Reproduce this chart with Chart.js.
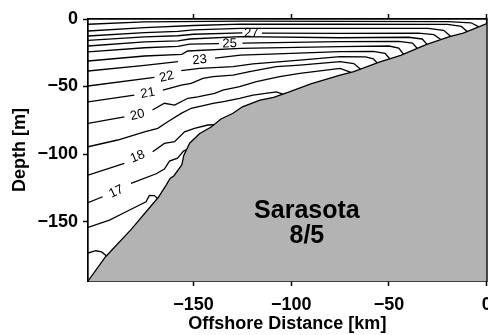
<!DOCTYPE html>
<html>
<head>
<meta charset="utf-8">
<script src="https://cdn.jsdelivr.net/npm/chart.js@4.4.1/dist/chart.umd.min.js"></script>
<style>
    html, body { margin: 0; padding: 0; background: #ffffff; }
</style>
</head>
<body>
<canvas id="section" width="488" height="335"></canvas>
<script>
// tick values
let distTicks = [-150, -100, -50, 0];
let depthTicks = [-150, -100, -50, 0];

// bottom profile [km, m]
let bathy = [[-204,-194],[-195,-176],[-182,-156],[-168,-132],[-164,-123],[-162,-118],[-160,-116],
    [-156,-108],[-155,-101],[-152,-92],[-147,-85],[-141,-80],[-136,-74],[-130,-70],[-125,-65],
    [-116,-60],[-109,-58],[-101,-54],[-90,-48],[-75,-41.5],[-68,-39],[-55,-32],[-44,-27],
    [-31,-19],[-19,-13],[-12,-10.5],[0,-3.5]];

// isotherms [km, m], a null depth leaves room for the label
let iso15 = [[-204,-173.3],[-200,-171.6],[-197,-172.5],[-194.5,-175.5]];
let iso16 = [[-204,-154.3],[-193,-148.9],[-184.5,-142.7],[-174.3,-135.3],[-172.6,-130.6],[-170,-130.8],[-168,-133.5]];
let iso17 = [[-204,-136],[-196.5,-131.6],[-189.6,null],[-182,-121.7],[-169.1,-114.6],[-164.9,-111.1],
    [-162.3,-105.2],[-158.2,-103],[-155.1,-97.8],[-153.5,-96.6]];
let iso18 = [[-204,-115.6],[-185.4,-106.9],[-178.6,null],[-170.9,-98.3],[-164.9,-92.1],[-159.7,-90.9],
    [-154.6,-83.5],[-149.5,-81],[-142.7,-78.5],[-139.5,-78.3]];
let iso19 = [[-204,-94.6],[-188.8,-89.6],[-175.1,-83.5],[-168.3,-81],[-163.2,-76.1],[-156.3,-69.9],
    [-151.2,-66.1],[-140,-62.5],[-134,-61],[-126.4,-58.7],[-119.6,-56.3],[-107.6,-53.9],[-104,-55.8]];
let iso20 = [[-204,-77.3],[-185.4,-72.4],[-178.7,null],[-171,-67.4],[-164.9,-62.4],[-159.7,-63.7],
    [-152.9,-58.7],[-147.9,-57.6],[-139.2,-55],[-135,-52.6],[-126.4,-50.1],[-117.8,-46.4],
    [-105.9,-42.7],[-95.6,-40.2],[-75,-36.5],[-69.5,-39.6]];
let iso21 = [[-204,-61.3],[-180.3,-56.3],[-173.4,null],[-165.7,-52.6],[-156.3,-48.9],[-151.2,-47.6],
    [-145.2,-43.9],[-140.1,-42.7],[-129.8,-41.5],[-121.3,-39],[-107.6,-35.3],[-95.6,-34.1],
    [-75,-31.6],[-68,-33],[-64.5,-37.2]];
let iso22 = [[-204,-49.6],[-170,-43.2],[-163.8,null],[-156.3,-38.3],[-146.9,-36.5],[-129.8,-35.3],
    [-119.6,-33.3],[-95.6,-30.4],[-75,-27.9],[-62,-28],[-58,-29.5],[-56,-32.6]];
let iso23 = [[-204,-38.5],[-175,-34.3],[-158,-31.6],[-146.9,null],[-139,-29],[-126,-26.7],[-100,-25.5],
    [-75,-24.2],[-58,-24],[-52,-25.5],[-49.5,-29.6]];
let iso24 = [[-204,-31.1],[-175,-27.4],[-156,-26.2],[-153,-23.7],[-126,-21.7],[-75,-20.5],[-50,-20],
    [-45,-21.5],[-42.5,-26.2]];
let iso25 = [[-204,-24.4],[-175,-21.3],[-158,-20.3],[-152,-18.6],[-137,-18.2],[-131.5,null],[-125,-17.8],
    [-75,-16.8],[-45,-16.5],[-38,-17.8],[-35.5,-21.8]];
let iso26 = [[-204,-20],[-175,-17],[-158,-16.2],[-152,-14.8],[-126,-13.1],[-75,-13.9],[-40,-13.5],
    [-33,-14.8],[-30.5,-18.8]];
let iso27 = [[-204,-15.8],[-175,-13.3],[-158,-12.4],[-150,-11.3],[-125,-10.2],[-120.4,null],[-115,-10.4],
    [-75,-10.6],[-35,-10.4],[-27,-11.6],[-23.5,-15.2]];
let iso28 = [[-204,-12.6],[-175,-10.1],[-158,-9.2],[-150,-8],[-126,-6.9],[-75,-6.9],[-30,-7],
    [-22,-8.4],[-18.5,-12.8]];
let iso29 = [[-204,-8.9],[-175,-6.4],[-150,-4.8],[-126,-3.8],[-75,-3.9],[-20,-4],[-13,-5.5],[-10,-9.3]];
let iso30 = [[-204,-3.9],[-175,-2.2],[-126,-1.6],[-75,-1.8],[-20,-2],[-8,-2.8],[-4,-5.8]];

let isotherms = [iso15, iso16, iso17, iso18, iso19, iso20, iso21, iso22, iso23,
    iso24, iso25, iso26, iso27, iso28, iso29, iso30];

// contour labels
let labelText = ['17', '18', '20', '21', '22', '23', '25', '27'];
let labelDist = [-189.6, -178.6, -178.7, -173.4, -163.8, -146.9, -131.5, -120.4];
let labelDepth = [-127.9, -102, -71.1, -55, -42.7, -30.4, -18.3, -10.6];
let labelLine = [iso17, iso18, iso20, iso21, iso22, iso23, iso25, iso27];

let fontFam = '"Liberation Sans", Arial, Helvetica, sans-serif';

function toPoints(line) {
    return line.map(p => ({x: p[0], y: p[1]}));
}

function tickText(v) {
    return v < 0 ? '\u2212' + Math.abs(v) : String(v);
}

let labelPlugin = {
    id: 'labelPlugin',
    afterDatasetsDraw(chart) {
        let ctx = chart.ctx;
        let xs = chart.scales.x;
        let ys = chart.scales.y;
        ctx.save();
        ctx.fillStyle = '#000000';
        ctx.textAlign = 'center';
        ctx.textBaseline = 'middle';
        ctx.font = '13px ' + fontFam;
        for (let i = 0; i < labelText.length; i++) {
            let line = labelLine[i];
            let k = line.findIndex(p => p[1] === null);
            let a = line[k - 1];
            let b = line[k + 1];
            let ang = Math.atan2(ys.getPixelForValue(b[1]) - ys.getPixelForValue(a[1]),
                xs.getPixelForValue(b[0]) - xs.getPixelForValue(a[0]));
            ctx.save();
            ctx.translate(xs.getPixelForValue(labelDist[i]), ys.getPixelForValue(labelDepth[i]));
            ctx.rotate(ang);
            ctx.fillText(labelText[i], 0, 0);
            ctx.restore();
        }
        // station and date
        ctx.textBaseline = 'alphabetic';
        ctx.font = 'bold 25px ' + fontFam;
        ctx.fillText('Sarasota', xs.getPixelForValue(-92), ys.getPixelForValue(-147.6));
        ctx.fillText('8/5', xs.getPixelForValue(-92), ys.getPixelForValue(-166.2));
        ctx.restore();
    }
};

let datasets = [{
    data: toPoints(bathy),
    borderColor: '#000000',
    borderWidth: 1.3,
    backgroundColor: '#b3b3b3',
    fill: 'start',
    order: 0
}];
for (let i = 0; i < isotherms.length; i++) {
    datasets.push({
        data: toPoints(isotherms[i]),
        borderColor: '#000000',
        borderWidth: 1.3,
        fill: false,
        order: 1
    });
}

let axisFont = {family: fontFam, size: 18, weight: 'bold'};

new Chart(document.querySelector('#section'), {
    type: 'scatter',
    data: {datasets: datasets},
    options: {
        responsive: false,
        animation: false,
        showLine: true,
        spanGaps: false,
        elements: {
            point: {radius: 0, hoverRadius: 0},
            line: {tension: 0}
        },
        layout: {padding: {top: 14, right: 1.3, bottom: 0, left: 0}},
        plugins: {
            legend: {display: false},
            tooltip: {enabled: false}
        },
        scales: {
            x: {
                type: 'linear',
                position: 'bottom',
                min: -204,
                max: 0,
                afterBuildTicks: s => { s.ticks = distTicks.map(v => ({value: v})); },
                afterFit: s => { s.height = 54; s.paddingLeft = 0; s.paddingRight = 0; },
                grid: {drawOnChartArea: false, tickLength: 5, tickWidth: 1.5, tickColor: '#000000'},
                border: {color: '#000000', width: 1.7},
                ticks: {color: '#000000', font: axisFont, padding: 8, maxRotation: 0, callback: tickText},
                title: {display: true, text: 'Offshore Distance [km]', color: '#000000', font: axisFont,
                    padding: {top: 0, bottom: 0}}
            },
            x2: {
                type: 'linear',
                position: 'top',
                min: -204,
                max: 0,
                afterBuildTicks: s => { s.ticks = distTicks.map(v => ({value: v})); },
                grid: {drawOnChartArea: false, tickLength: 5, tickWidth: 1.5, tickColor: '#000000'},
                border: {color: '#000000', width: 1.7},
                ticks: {display: false}
            },
            y: {
                type: 'linear',
                position: 'left',
                min: -194,
                max: 0,
                afterBuildTicks: s => { s.ticks = depthTicks.map(v => ({value: v})); },
                afterFit: s => { s.width = 88; s.paddingTop = 0; s.paddingBottom = 0; },
                grid: {drawOnChartArea: false, tickLength: 5, tickWidth: 1.5, tickColor: '#000000'},
                border: {color: '#000000', width: 1.7},
                ticks: {color: '#000000', font: axisFont, padding: 5, callback: tickText},
                title: {display: true, text: 'Depth [m]', color: '#000000', font: axisFont,
                    padding: {top: 9, bottom: 0}}
            },
            y2: {
                type: 'linear',
                position: 'right',
                min: -194,
                max: 0,
                grid: {drawOnChartArea: false, drawTicks: false},
                border: {color: '#000000', width: 1.7},
                ticks: {display: false}
            }
        }
    },
    plugins: [labelPlugin]
});
</script>
</body>
</html>
